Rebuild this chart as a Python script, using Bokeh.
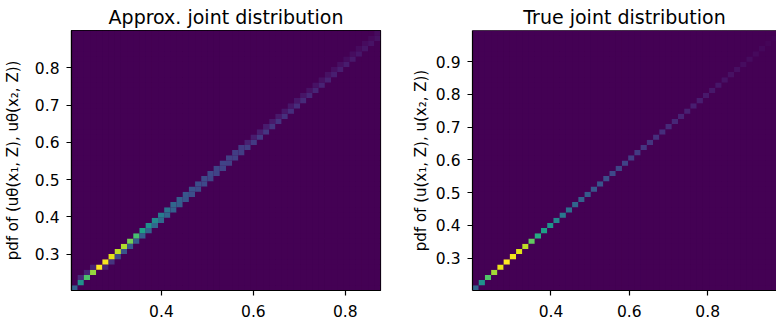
import numpy as np
from bokeh.plotting import figure
from bokeh.layouts import row
from bokeh.models import (Range1d, FixedTicker, ColumnDataSource, Span,
                          LinearColorMapper, GlobalInlineStyleSheet)
from bokeh.palettes import Viridis256
from bokeh.embed import file_html
from bokeh.resources import INLINE

# ---------------- data ----------------
N_BINS = 50
# data ranges of the 2-D histograms (min, max of samples)
approx_u1_range = (0.2043, 0.8767)
approx_u2_range = (0.2026, 0.9003)
true_u1_range = (0.1997, 0.9946)
true_u2_range = (0.2015, 0.9946)

# non-empty cells of the approximate joint histogram (bin column, bin row, density / max)
approx_cols = [0, 1, 1, 2, 2, 3, 3, 4, 5, 5, 6, 6, 7, 7, 8, 8, 9, 9, 10, 10,
               11, 11, 12, 12, 13, 13, 14, 14, 15, 15, 16, 16, 17, 17, 18, 18,
               19, 19, 20, 20, 21, 21, 22, 22, 23, 23, 24, 24, 25, 25, 26, 26,
               27, 27, 28, 28, 29, 29, 30, 30, 31, 31, 32, 32, 33, 33, 34, 34,
               35, 35, 36, 36, 37, 37, 38, 38, 39, 39, 40, 40, 41, 41, 42, 42,
               43, 43, 44, 44, 45, 45, 46, 46, 47, 47, 48, 48, 49, 49]
approx_rows = [0, 1, 2, 2, 3, 3, 4, 4, 5, 4, 6, 5, 7, 6, 8, 7, 9, 8, 10, 9,
               11, 10, 12, 11, 13, 12, 14, 13, 15, 14, 16, 15, 17, 16, 18, 17,
               19, 18, 20, 19, 21, 20, 22, 21, 23, 22, 24, 23, 25, 24, 26, 25,
               27, 26, 27, 28, 28, 29, 29, 30, 30, 31, 31, 32, 32, 33, 33, 34,
               34, 35, 35, 36, 36, 37, 37, 38, 38, 39, 39, 40, 40, 41, 41, 42,
               42, 43, 43, 44, 44, 45, 45, 46, 46, 47, 47, 48, 48, 49]
approx_vals = [0.30, 0.50, 0.12, 0.72, 0.10, 0.84, 0.09, 1.00, 0.99, 0.10,
               0.96, 0.15, 0.90, 0.22, 0.88, 0.26, 0.79, 0.28, 0.71, 0.29,
               0.57, 0.30, 0.51, 0.32, 0.47, 0.33, 0.42, 0.34, 0.38, 0.33,
               0.33, 0.31, 0.30, 0.29, 0.27, 0.26, 0.25, 0.24, 0.24, 0.23,
               0.23, 0.22, 0.22, 0.21, 0.21, 0.20, 0.20, 0.20, 0.19, 0.19,
               0.18, 0.19, 0.17, 0.18, 0.18, 0.09, 0.17, 0.08, 0.165, 0.08,
               0.16, 0.075, 0.15, 0.07, 0.145, 0.07, 0.14, 0.065, 0.13, 0.06,
               0.125, 0.06, 0.12, 0.055, 0.11, 0.05, 0.105, 0.05, 0.10, 0.045,
               0.09, 0.045, 0.085, 0.04, 0.08, 0.04, 0.075, 0.035, 0.07, 0.035,
               0.06, 0.03, 0.055, 0.03, 0.05, 0.025, 0.045, 0.03]

# non-empty cells of the true joint histogram (all on the diagonal)
true_cols = [0, 1, 2, 3, 4, 5, 6, 7, 8, 9, 10, 11, 12, 13, 14, 15, 16, 17, 18, 19,
             20, 21, 22, 23, 24, 25, 26, 27, 28, 29, 30, 31, 32, 33, 34, 35, 36, 37,
             38, 39, 40, 41, 42, 43, 44, 45, 46, 47, 48, 49]
true_rows = [0, 1, 2, 3, 4, 5, 6, 7, 8, 9, 10, 11, 12, 13, 14, 15, 16, 17, 18, 19,
             20, 21, 22, 23, 24, 25, 26, 27, 28, 29, 30, 31, 32, 33, 34, 35, 36, 37,
             38, 39, 40, 41, 42, 43, 44, 45, 46, 47, 48, 49]
true_vals = [0.32, 0.50, 0.73, 0.86, 0.97, 1.00, 0.98, 0.95, 0.90, 0.76,
             0.62, 0.57, 0.52, 0.46, 0.40, 0.36, 0.33, 0.31, 0.29, 0.27,
             0.26, 0.24, 0.22, 0.21, 0.20, 0.18, 0.17, 0.16, 0.15, 0.14,
             0.13, 0.12, 0.11, 0.10, 0.09, 0.085, 0.08, 0.07, 0.065, 0.06,
             0.05, 0.045, 0.04, 0.035, 0.03, 0.025, 0.02, 0.015, 0.01, 0.005]

approx_xticks = [0.4, 0.6, 0.8]
approx_yticks = [0.3, 0.4, 0.5, 0.6, 0.7, 0.8]
true_xticks = [0.4, 0.6, 0.8]
true_yticks = [0.3, 0.4, 0.5, 0.6, 0.7, 0.8, 0.9]

FONT = "DejaVu Sans"
mapper = LinearColorMapper(palette=Viridis256, low=0.0, high=1.0)


def hist_source(cols, rows, vals, xr, yr):
    grid = np.zeros((N_BINS, N_BINS))
    for c, r, v in zip(cols, rows, vals):
        grid[r, c] = v
    xe = np.linspace(xr[0], xr[1], N_BINS + 1)
    ye = np.linspace(yr[0], yr[1], N_BINS + 1)
    ci, ri = np.meshgrid(np.arange(N_BINS), np.arange(N_BINS))
    ci = ci.ravel()
    ri = ri.ravel()
    return ColumnDataSource(dict(left=xe[ci], right=xe[ci + 1],
                                 bottom=ye[ri], top=ye[ri + 1],
                                 val=grid[ri, ci]))


def make_fig(title, ylabel, xview, yview, xticks, yticks, frame_w,
             border_l, border_r, label_standoff):
    p = figure(frame_width=frame_w, frame_height=260,
               x_range=Range1d(*xview), y_range=Range1d(*yview),
               output_backend="svg", toolbar_location=None,
               min_border_left=border_l, min_border_right=border_r,
               min_border_top=30, min_border_bottom=22, title=title)
    p.background_fill_color = "#440154"
    p.border_fill_color = "white"
    p.grid.visible = False
    p.title.text_font = FONT
    p.title.text_font_size = "19px"
    p.title.text_font_style = "normal"
    p.title.text_color = "black"
    p.title.align = "center"
    p.title.standoff = 6
    for ax in (p.xaxis[0], p.yaxis[0]):
        ax.major_label_text_font = FONT
        ax.major_label_text_font_size = "15.5px"
        ax.major_label_text_color = "black"
        ax.axis_line_color = "black"
        ax.axis_line_width = 1.2
        ax.major_tick_line_color = "black"
        ax.major_tick_line_width = 1.2
        ax.major_tick_in = 0
        ax.major_tick_out = 5
        ax.minor_tick_line_color = None
    p.xaxis.ticker = FixedTicker(ticks=xticks)
    p.yaxis.ticker = FixedTicker(ticks=yticks)
    p.xaxis.major_label_standoff = 9
    p.yaxis.major_label_standoff = 7
    p.yaxis.axis_label = ylabel
    p.yaxis.axis_label_text_font = FONT
    p.yaxis.axis_label_text_font_size = "15px"
    p.yaxis.axis_label_text_font_style = "normal"
    p.yaxis.axis_label_text_color = "black"
    p.yaxis.axis_label_standoff = label_standoff
    return p


p1 = make_fig("Approx. joint distribution",
              "pdf of (uθ(x₁, Z), uθ(x₂, Z))",
              approx_u1_range, approx_u2_range, approx_xticks, approx_yticks,
              309, 65, 23, 10)
src1 = hist_source(approx_cols, approx_rows, approx_vals,
                   approx_u1_range, approx_u2_range)
p1.quad(left="left", right="right", bottom="bottom", top="top", source=src1,
        fill_color={"field": "val", "transform": mapper}, line_color=None)
p1.outline_line_color = "black"
p1.outline_line_width = 1.2
p1.outline_line_alpha = 1.0

# right panel is cut by the window edge: visible part of the x range only
true_xview = (true_u1_range[0], 0.9757)
p2 = make_fig("True joint distribution",
              "pdf of (u(x₁, Z), u(x₂, Z))",
              true_xview, true_u2_range, true_xticks, true_yticks,
              304, 69, 0, 3)
src2 = hist_source(true_cols, true_rows, true_vals,
                   true_u1_range, true_u2_range)
p2.quad(left="left", right="right", bottom="bottom", top="top", source=src2,
        fill_color={"field": "val", "transform": mapper}, line_color=None)
p2.outline_line_color = None
p2.add_layout(Span(location=true_u2_range[1], dimension="width",
                   line_color="black", line_width=1.2))

layout = row(p1, p2, stylesheets=[GlobalInlineStyleSheet(css="html, body { overflow: hidden; }")])

open("out.html", "w").write(file_html(layout, INLINE))
